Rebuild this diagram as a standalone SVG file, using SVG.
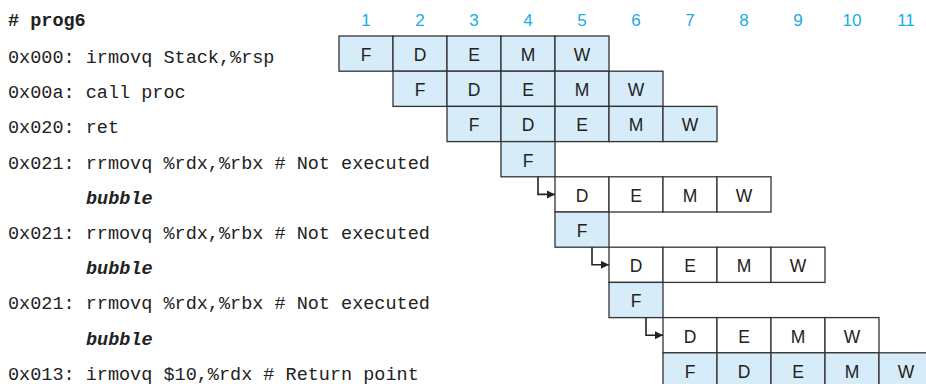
<svg xmlns="http://www.w3.org/2000/svg" width="926" height="384" viewBox="0 0 926 384">
<defs>
<style>
.code{font-family:"Liberation Mono","DejaVu Sans Mono",monospace;font-size:18.5px;fill:#222}
.title{font-family:"Liberation Mono","DejaVu Sans Mono",monospace;font-size:18.5px;font-weight:bold;fill:#222}
.bub{font-family:"Liberation Mono","DejaVu Sans Mono",monospace;font-size:18.5px;font-weight:bold;font-style:italic;fill:#222}
.num{font-family:"Liberation Sans",Arial,sans-serif;font-size:17px;fill:#18ace6;text-anchor:middle}
.st{font-family:"Liberation Sans",Arial,sans-serif;font-size:17.5px;fill:#222;text-anchor:middle}
.b{fill:#d6ecf8;stroke:#333;stroke-width:1.3}
.w{fill:#fff;stroke:#333;stroke-width:1.3}
.con{fill:none;stroke:#222;stroke-width:1.6}
</style>
<marker id="ah" viewBox="0 0 10 10" refX="10" refY="5" markerWidth="8.5" markerHeight="8.5" markerUnits="userSpaceOnUse" orient="auto">
<path d="M0,0 L10,5 L0,10 z" fill="#222"/>
</marker>
</defs>
<rect width="926" height="384" fill="#fff"/>
<g id="header">
<text class="title" x="8" y="26"># prog6</text>
<text class="num" x="366" y="26">1</text>
<text class="num" x="420" y="26">2</text>
<text class="num" x="474" y="26">3</text>
<text class="num" x="528" y="26">4</text>
<text class="num" x="582" y="26">5</text>
<text class="num" x="636" y="26">6</text>
<text class="num" x="690" y="26">7</text>
<text class="num" x="744" y="26">8</text>
<text class="num" x="798" y="26">9</text>
<text class="num" x="852" y="26">10</text>
<text class="num" x="906" y="26">11</text>
</g>
<g id="labels">
<text class="code" x="8" y="63">0x000: irmovq Stack,%rsp</text>
<text class="code" x="8" y="98.2">0x00a: call proc</text>
<text class="code" x="8" y="133.4">0x020: ret</text>
<text class="code" x="8" y="168.6">0x021: rrmovq %rdx,%rbx # Not executed</text>
<text class="bub" x="86" y="203.8">bubble</text>
<text class="code" x="8" y="239">0x021: rrmovq %rdx,%rbx # Not executed</text>
<text class="bub" x="86" y="274.2">bubble</text>
<text class="code" x="8" y="309.4">0x021: rrmovq %rdx,%rbx # Not executed</text>
<text class="bub" x="86" y="344.6">bubble</text>
<text class="code" x="8" y="379.8">0x013: irmovq $10,%rdx # Return point</text>
</g>
<g id="row1">
<rect class="b" x="339" y="36" width="54" height="35.2"/><text class="st" x="366" y="61">F</text>
<rect class="b" x="393" y="36" width="54" height="35.2"/><text class="st" x="420" y="61">D</text>
<rect class="b" x="447" y="36" width="54" height="35.2"/><text class="st" x="474" y="61">E</text>
<rect class="b" x="501" y="36" width="54" height="35.2"/><text class="st" x="528" y="61">M</text>
<rect class="b" x="555" y="36" width="54" height="35.2"/><text class="st" x="582" y="61">W</text>
</g>
<g id="row2">
<rect class="b" x="393" y="71.2" width="54" height="35.2"/><text class="st" x="420" y="96.2">F</text>
<rect class="b" x="447" y="71.2" width="54" height="35.2"/><text class="st" x="474" y="96.2">D</text>
<rect class="b" x="501" y="71.2" width="54" height="35.2"/><text class="st" x="528" y="96.2">E</text>
<rect class="b" x="555" y="71.2" width="54" height="35.2"/><text class="st" x="582" y="96.2">M</text>
<rect class="b" x="609" y="71.2" width="54" height="35.2"/><text class="st" x="636" y="96.2">W</text>
</g>
<g id="row3">
<rect class="b" x="447" y="106.4" width="54" height="35.2"/><text class="st" x="474" y="131.4">F</text>
<rect class="b" x="501" y="106.4" width="54" height="35.2"/><text class="st" x="528" y="131.4">D</text>
<rect class="b" x="555" y="106.4" width="54" height="35.2"/><text class="st" x="582" y="131.4">E</text>
<rect class="b" x="609" y="106.4" width="54" height="35.2"/><text class="st" x="636" y="131.4">M</text>
<rect class="b" x="663" y="106.4" width="54" height="35.2"/><text class="st" x="690" y="131.4">W</text>
</g>
<g id="row4">
<rect class="b" x="501" y="141.6" width="54" height="35.2"/><text class="st" x="528" y="166.6">F</text>
</g>
<g id="row5">
<rect class="w" x="555" y="176.8" width="54" height="35.2"/><text class="st" x="582" y="201.8">D</text>
<rect class="w" x="609" y="176.8" width="54" height="35.2"/><text class="st" x="636" y="201.8">E</text>
<rect class="w" x="663" y="176.8" width="54" height="35.2"/><text class="st" x="690" y="201.8">M</text>
<rect class="w" x="717" y="176.8" width="54" height="35.2"/><text class="st" x="744" y="201.8">W</text>
</g>
<g id="row6">
<rect class="b" x="555" y="212" width="54" height="35.2"/><text class="st" x="582" y="237">F</text>
</g>
<g id="row7">
<rect class="w" x="609" y="247.2" width="54" height="35.2"/><text class="st" x="636" y="272.2">D</text>
<rect class="w" x="663" y="247.2" width="54" height="35.2"/><text class="st" x="690" y="272.2">E</text>
<rect class="w" x="717" y="247.2" width="54" height="35.2"/><text class="st" x="744" y="272.2">M</text>
<rect class="w" x="771" y="247.2" width="54" height="35.2"/><text class="st" x="798" y="272.2">W</text>
</g>
<g id="row8">
<rect class="b" x="609" y="282.4" width="54" height="35.2"/><text class="st" x="636" y="307.4">F</text>
</g>
<g id="row9">
<rect class="w" x="663" y="317.6" width="54" height="35.2"/><text class="st" x="690" y="342.6">D</text>
<rect class="w" x="717" y="317.6" width="54" height="35.2"/><text class="st" x="744" y="342.6">E</text>
<rect class="w" x="771" y="317.6" width="54" height="35.2"/><text class="st" x="798" y="342.6">M</text>
<rect class="w" x="825" y="317.6" width="54" height="35.2"/><text class="st" x="852" y="342.6">W</text>
</g>
<g id="row10">
<rect class="b" x="663" y="352.8" width="54" height="35.2"/><text class="st" x="690" y="377.8">F</text>
<rect class="b" x="717" y="352.8" width="54" height="35.2"/><text class="st" x="744" y="377.8">D</text>
<rect class="b" x="771" y="352.8" width="54" height="35.2"/><text class="st" x="798" y="377.8">E</text>
<rect class="b" x="825" y="352.8" width="54" height="35.2"/><text class="st" x="852" y="377.8">M</text>
<rect class="b" x="879" y="352.8" width="54" height="35.2"/><text class="st" x="906" y="377.8">W</text>
</g>
<g id="connectors">
<path class="con" d="M538,176.8 V194.4 H555" marker-end="url(#ah)"/>
<path class="con" d="M592,247.2 V264.8 H609" marker-end="url(#ah)"/>
<path class="con" d="M646,317.6 V335.2 H663" marker-end="url(#ah)"/>
</g>
</svg>
